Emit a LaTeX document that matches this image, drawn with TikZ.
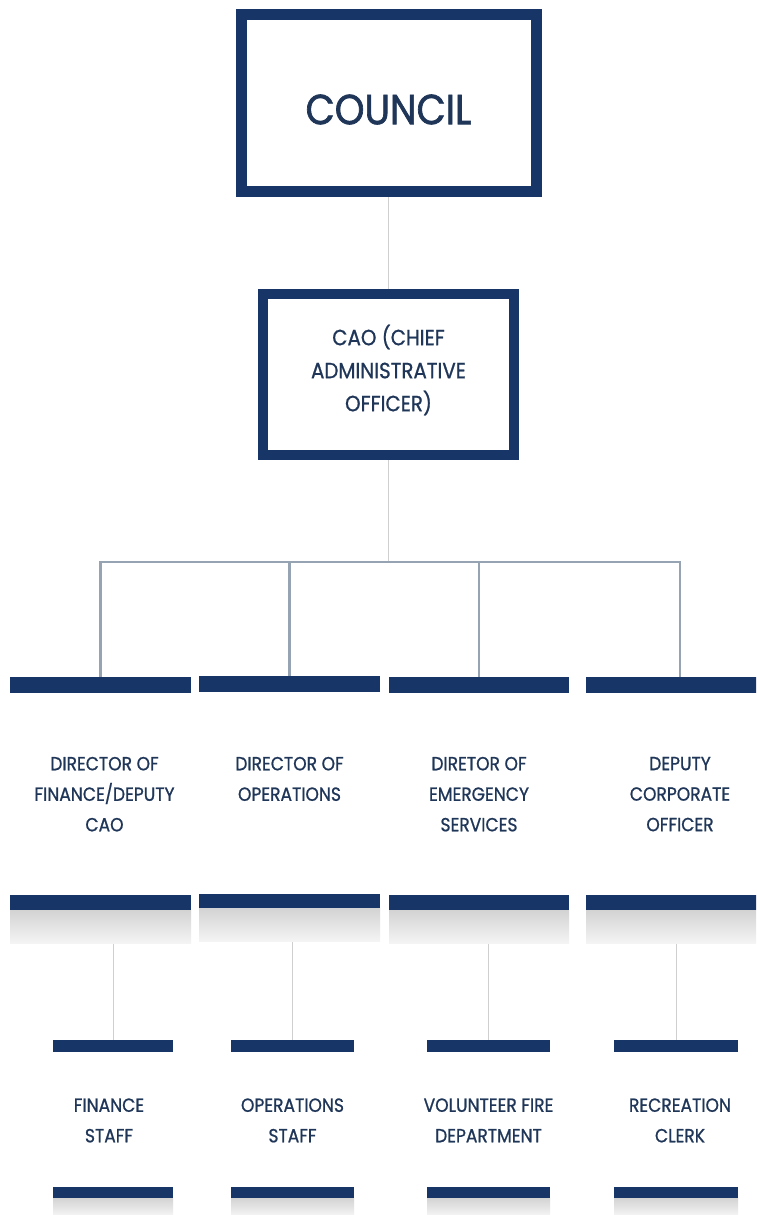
\documentclass[tikz,border=0pt]{standalone}
\usepackage{fontspec}
\setmainfont[FakeStretch=0.9]{Poppins}
\newfontfamily\medfont[FakeStretch=0.9,FakeBold=0.9]{Poppins}
\newfontfamily\headfont[FakeStretch=0.9,FakeBold=1.6]{Poppins}
\usepackage{tikz}
\usetikzlibrary{positioning}
\usepackage{xcolor}
\definecolor{navy}{HTML}{173566}
\definecolor{ink}{HTML}{1F3658}
\definecolor{busgray}{HTML}{95A3B3}
\definecolor{thingray}{HTML}{CFCFCF}

\begin{document}
\begin{tikzpicture}[x=1pt,y=-1pt,
  bigbox/.style={draw=navy,line width=11pt,fill=white,inner sep=0pt},
  navybar/.style={fill=navy,inner sep=0pt},
  shadebar/.style={top color=black!17,bottom color=black!4,inner sep=0pt},
  role/.style={text=ink,align=center,inner sep=0pt,font=\fontsize{19}{30.5}\selectfont\medfont},
  link/.style={draw=thingray,line width=1pt},
  buslink/.style={draw=busgray,line width=2.2pt}]
\useasboundingbox[fill=white] (0,0) rectangle (756,1215);
\clip (0,0) rectangle (756,1215);
% top boxes
\node[bigbox,minimum width=295pt,minimum height=177pt] (council) at (388.5,103) {};
\node[text=ink,font=\fontsize{42}{42}\selectfont\headfont] at (388.5,109.5) {COUNCIL};
\node[bigbox,line width=10pt,minimum width=251pt,minimum height=161pt] (cao) at (388.5,374.5) {};
\node[text=ink,align=center,font=\fontsize{22}{33}\selectfont\medfont] at (388.5,370) {CAO (CHIEF\\ADMINISTRATIVE\\OFFICER)};
\draw[link] (council.south) -- (cao.north);
% directors
\node[navybar,minimum width=181pt,minimum height=16pt] (d1) at (100.5,685) {};
\node[navybar,minimum width=181pt,minimum height=16pt] (d2) at (289.5,684) {};
\node[navybar,minimum width=180pt,minimum height=16pt] (d3) at (479,685) {};
\node[navybar,minimum width=188pt,minimum height=16pt] (d4) at (680,685) {};
\coordinate (bus) at (388.5,562);
\draw[link] (cao.south) -- (bus);
\draw[buslink] (d1.north) |- (bus) -| (d4.north);
\draw[buslink] (d2.north) -- (d2.north |- bus);
\draw[buslink] (d3.north) -- (d3.north |- bus);
\node[role,below=63.5pt of d1,xshift=4pt] (t1) {DIRECTOR OF\\FINANCE/DEPUTY\\CAO};
\node[role,below=64.5pt of d2] (t2) {DIRECTOR OF\\OPERATIONS};
\node[role,below=63.5pt of d3] (t3) {DIRETOR OF\\EMERGENCY\\SERVICES};
\node[role,below=63.5pt of d4] (t4) {DEPUTY\\CORPORATE\\OFFICER};
\node[navybar,minimum width=181pt,minimum height=15pt] (b1) at (100.5,902.5) {};
\node[navybar,minimum width=181pt,minimum height=15pt] (b2) at (289.5,901) {};
\node[navybar,minimum width=180pt,minimum height=15pt] (b3) at (479,902.5) {};
\node[navybar,minimum width=188pt,minimum height=15pt] (b4) at (680,902.5) {};
\node[shadebar,minimum width=181pt,minimum height=33pt,below=0pt of b1] (g1) {};
\node[shadebar,minimum width=181pt,minimum height=33pt,below=0pt of b2] (g2) {};
\node[shadebar,minimum width=180pt,minimum height=33pt,below=0pt of b3] (g3) {};
\node[shadebar,minimum width=188pt,minimum height=33pt,below=0pt of b4] (g4) {};
% staff
\node[navybar,minimum width=120pt,minimum height=12pt] (s1) at (113,1046) {};
\node[navybar,minimum width=123pt,minimum height=12pt] (s2) at (292.5,1046) {};
\node[navybar,minimum width=123pt,minimum height=12pt] (s3) at (488.5,1046) {};
\node[navybar,minimum width=124pt,minimum height=12pt] (s4) at (676,1046) {};
\draw[link] (s1.north) -- (s1.north |- g1.south);
\draw[link] (s2.north) -- (s2.north |- g2.south);
\draw[link] (s3.north) -- (s3.north |- g3.south);
\draw[link] (s4.north) -- (s4.north |- g4.south);
\node[role,below=46pt of s1,xshift=-4pt] (f1) {FINANCE\\STAFF};
\node[role,below=46pt of s2] (f2) {OPERATIONS\\STAFF};
\node[role,below=46pt of s3] (f3) {VOLUNTEER FIRE\\DEPARTMENT};
\node[role,below=46pt of s4,xshift=4pt] (f4) {RECREATION\\CLERK};
\node[navybar,minimum width=120pt,minimum height=11pt] (e1) at (113,1192.5) {};
\node[navybar,minimum width=123pt,minimum height=11pt] (e2) at (292.5,1192.5) {};
\node[navybar,minimum width=123pt,minimum height=11pt] (e3) at (488.5,1192.5) {};
\node[navybar,minimum width=124pt,minimum height=11pt] (e4) at (676,1192.5) {};
\node[shadebar,minimum width=120pt,minimum height=17pt,below=0pt of e1] (h1) {};
\node[shadebar,minimum width=123pt,minimum height=17pt,below=0pt of e2] (h2) {};
\node[shadebar,minimum width=123pt,minimum height=17pt,below=0pt of e3] (h3) {};
\node[shadebar,minimum width=124pt,minimum height=17pt,below=0pt of e4] (h4) {};
\end{tikzpicture}
\end{document}
